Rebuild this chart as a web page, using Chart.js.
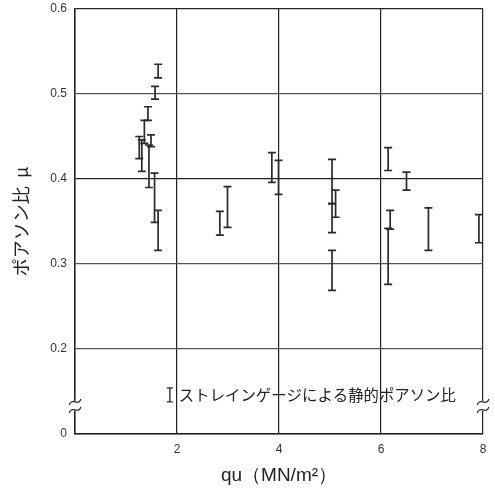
<!DOCTYPE html>
<html>
<head>
<meta charset="utf-8">
<script src="https://cdn.jsdelivr.net/npm/chart.js@4"></script>
<style>
  html, body { margin: 0; padding: 0; background: #fff; }
  #wrap { width: 495px; height: 488px; }
</style>
</head>
<body>
<div id="wrap"><canvas id="grafico"></canvas></div>
<script>
// valori: qu (MN/m2), estremo superiore e inferiore della barra
var qu =      [1.26, 1.31, 1.36, 1.43, 1.45, 1.49, 1.56, 1.57, 1.63, 1.63, 2.84, 2.99, 3.86, 3.99, 5.04, 5.04, 5.11, 5.04, 6.14, 6.50, 6.18, 6.14, 6.93, 7.92];
var superiore = [0.450, 0.446, 0.469, 0.485, 0.440, 0.452, 0.407, 0.509, 0.535, 0.363, 0.362, 0.391, 0.431, 0.422, 0.423, 0.371, 0.387, 0.316, 0.437, 0.408, 0.363, 0.342, 0.366, 0.358];
var inferiore = [0.424, 0.409, 0.442, 0.469, 0.390, 0.438, 0.349, 0.494, 0.519, 0.316, 0.334, 0.343, 0.396, 0.382, 0.371, 0.337, 0.355, 0.269, 0.410, 0.387, 0.341, 0.276, 0.316, 0.325];
var tick_y = [0.1, 0.2, 0.3, 0.4, 0.5, 0.6];
var tick_x = [2, 4, 6, 8];
var legenda = 'ストレインゲージによる静的ポアソン比';

var punti = [];
for (var i = 0; i < qu.length; i++) {
  punti.push({ x: qu[i], y: (superiore[i] + inferiore[i]) / 2, lo: inferiore[i], hi: superiore[i] });
}

var colore_barra = '#2b2b2b';

// disegno le barre d'errore con le scale del grafico
var plugin_barre = {
  id: 'barre',
  afterDatasetsDraw: function(chart) {
    var ctx = chart.ctx;
    var sx = chart.scales.x, sy = chart.scales.y;
    var dati = chart.data.datasets[0].data;
    ctx.save();
    ctx.strokeStyle = colore_barra;
    ctx.lineWidth = 1.7;
    for (var i = 0; i < dati.length; i++) {
      var px = sx.getPixelForValue(dati[i].x);
      var pt = sy.getPixelForValue(dati[i].hi);
      var pb = sy.getPixelForValue(dati[i].lo);
      ctx.beginPath();
      ctx.moveTo(px, pt); ctx.lineTo(px, pb);
      ctx.moveTo(px - 4, pt); ctx.lineTo(px + 4, pt);
      ctx.moveTo(px - 4, pb); ctx.lineTo(px + 4, pb);
      ctx.stroke();
    }

    // legenda
    var lx = sx.getPixelForValue(1.86);
    var ly = sy.getPixelForValue(0.146);
    ctx.lineWidth = 1.4;
    ctx.beginPath();
    ctx.moveTo(lx, ly - 7); ctx.lineTo(lx, ly + 7);
    ctx.moveTo(lx - 3, ly - 7); ctx.lineTo(lx + 3, ly - 7);
    ctx.moveTo(lx - 3, ly + 7); ctx.lineTo(lx + 3, ly + 7);
    ctx.stroke();
    ctx.fillStyle = '#222';
    ctx.font = '15.4px "Noto Sans CJK JP"';
    ctx.textBaseline = 'middle';
    ctx.fillText(legenda, lx + 9, ly);

    // simbolo di interruzione dell'asse y
    var yb = sy.getPixelForValue(0.133);
    [chart.chartArea.left, chart.chartArea.right].forEach(function(ax) {
      ctx.fillStyle = '#fff';
      ctx.fillRect(ax - 2, yb - 5, 5, 10);
      ctx.strokeStyle = '#222';
      ctx.lineWidth = 1.2;
      [-4, 4].forEach(function(d) {
        ctx.beginPath();
        ctx.moveTo(ax - 6, yb + d + 3);
        ctx.bezierCurveTo(ax - 3, yb + d - 5, ax + 3, yb + d + 5, ax + 6, yb + d - 3);
        ctx.stroke();
      });
    });
    ctx.restore();
  }
};

new Chart(document.getElementById('grafico'), {
  type: 'scatter',
  data: {
    datasets: [{
      data: punti,
      pointRadius: 0,
      showLine: false
    }]
  },
  options: {
    responsive: true,
    maintainAspectRatio: false,
    animation: false,
    layout: { padding: { top: 9, right: 12, left: 0, bottom: 0 } },
    plugins: { legend: { display: false }, tooltip: { enabled: false } },
    scales: {
      x: {
        type: 'linear',
        min: 0,
        max: 8,
        afterBuildTicks: function(axis) {
          axis.ticks = [0].concat(tick_x).map(function(v) { return { value: v }; });
        },
        afterFit: function(axis) { axis.height = 54; axis.paddingLeft = 0; axis.paddingRight = 0; },
        grid: { color: '#222', lineWidth: 1.2, drawTicks: false },
        border: { color: '#222', width: 1.5 },
        ticks: {
          padding: 8,
          color: '#333',
          font: { family: 'Liberation Sans', size: 12 },
          callback: function(v) { return v === 0 ? '' : String(v); }
        },
        title: {
          display: true,
          text: 'qu（MN/m²）',
          color: '#222',
          font: { family: 'Liberation Sans', size: 19 },
          padding: { top: 0, bottom: 1 }
        }
      },
      y: {
        type: 'linear',
        min: 0.1,
        max: 0.6,
        afterBuildTicks: function(axis) {
          axis.ticks = tick_y.map(function(v) { return { value: v }; });
        },
        afterFit: function(axis) { axis.width = 75; axis.paddingTop = 0; axis.paddingBottom = 0; },
        grid: {
          color: function(c) { return c.tick && (c.tick.value === 0.4 || c.tick.value === 0.6) ? '#222' : '#555'; },
          lineWidth: 1.2,
          drawTicks: false
        },
        border: { color: '#222', width: 1.5 },
        ticks: {
          padding: 8,
          color: '#333',
          font: { family: 'Liberation Sans', size: 12 },
          callback: function(v) { return Math.abs(v - 0.1) < 1e-9 ? '0' : v.toFixed(1); }
        },
        title: {
          display: true,
          text: 'ポアソン比  μ',
          color: '#222',
          font: { family: 'Noto Sans CJK JP', size: 18 },
          padding: { top: 10, bottom: 0 }
        }
      }
    }
  },
  plugins: [plugin_barre]
});
</script>
</body>
</html>
